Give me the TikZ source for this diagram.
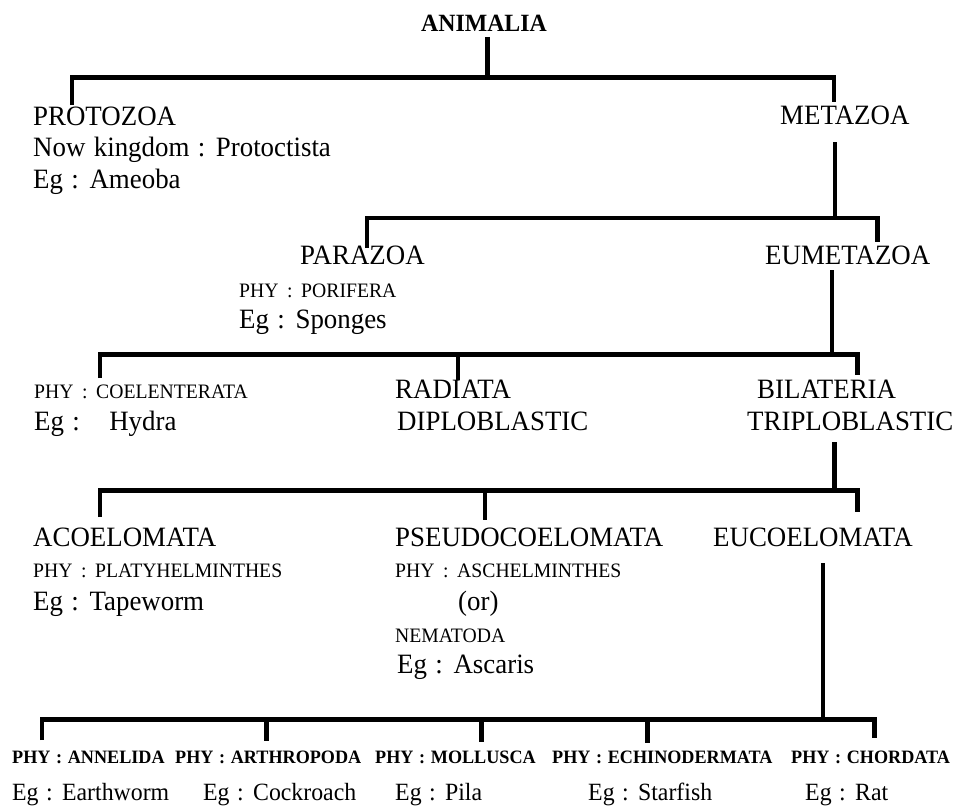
\documentclass[tikz,border=0pt]{standalone}
\usepackage{fontspec}
\setmainfont{Liberation Serif}[FakeStretch=0.96,WordSpace=1.25]
\newcommand{\phsp}{\hspace{0.42em}:\hspace{0.42em}}
\begin{document}
\begin{tikzpicture}[x=1pt,y=-1pt]
\tikzset{
 lbl/.style={anchor=base west, inner sep=0pt, font=\fontsize{28}{30}\selectfont},
 sml/.style={anchor=base west, inner sep=0pt, font=\fontsize{20.5}{22}\selectfont},
 bsml/.style={anchor=base west, inner sep=0pt, font=\bfseries\fontsize{18.9}{21}\selectfont},
 egb/.style={anchor=base west, inner sep=0pt, font=\fontsize{24.8}{27}\selectfont},
 br/.style={line width=4.8pt, line join=miter},
}
\useasboundingbox (0,0) rectangle (955,808);
% texts
\node[anchor=base, inner sep=0pt, font=\bfseries\fontsize{24.8}{27}\selectfont] (animalia) at (484,32) {ANIMALIA};
\node[lbl] (protozoa) at (33,125) {PROTOZOA};
\node[lbl] (protnow) at (33,156) {Now kingdom : Protoctista};
\node[lbl] (proteg) at (33,188) {Eg : Ameoba};
\node[lbl] (metazoa) at (780,124) {METAZOA};
\node[lbl] (parazoa) at (300,264) {PARAZOA};
\node[lbl] (eumetazoa) at (765,264) {EUMETAZOA};
\node[sml] (porifera) at (239,297) {PHY\phsp PORIFERA};
\node[lbl] (sponges) at (239,328) {Eg : Sponges};
\node[sml] (coel) at (34,398) {PHY\phsp COELENTERATA};
\node[lbl] (hydra) at (34,430) {Eg :\hspace{1.05em}Hydra};
\node[lbl] (radiata) at (395,398) {RADIATA};
\node[lbl] (diplo) at (397,430) {DIPLOBLASTIC};
\node[lbl] (bilat) at (757,398) {BILATERIA};
\node[lbl] (triplo) at (747,430) {TRIPLOBLASTIC};
\node[lbl] (acoel) at (33,546) {ACOELOMATA};
\node[lbl] (pseudo) at (395,546) {PSEUDOCOELOMATA};
\node[lbl] (eucoel) at (713,546) {EUCOELOMATA};
\node[sml] (platy) at (33,577) {PHY\phsp PLATYHELMINTHES};
\node[lbl] (tape) at (33,610) {Eg : Tapeworm};
\node[sml] (aschel) at (395,577) {PHY\phsp ASCHELMINTHES};
\node[lbl] (or) at (458,610) {(or)};
\node[sml] (nema) at (395,642) {NEMATODA};
\node[lbl] (ascaris) at (397,673) {Eg : Ascaris};
\node[bsml] (annelida) at (12,763) {PHY : ANNELIDA};
\node[bsml] (arthro) at (175,763) {PHY : ARTHROPODA};
\node[bsml] (mollusca) at (375,763) {PHY : MOLLUSCA};
\node[bsml] (echino) at (552,763) {PHY : ECHINODERMATA};
\node[bsml] (chorda) at (791,763) {PHY : CHORDATA};
\node[egb] (earthworm) at (12,800) {Eg : Earthworm};
\node[egb] (cockroach) at (203,800) {Eg : Cockroach};
\node[egb] (pila) at (395,800) {Eg : Pila};
\node[egb] (starfish) at (588,800) {Eg : Starfish};
\node[egb] (rat) at (805,800) {Eg : Rat};
% level 1
\coordinate (s1) at (487.5,37);
\coordinate (j1) at (487.5,77.5);
\coordinate (l1) at (72,105);
\coordinate (r1) at (834,102);
\draw[br] (l1) |- (j1) -| (r1);
\draw[br] (s1) -- (j1);
% level 2
\coordinate (s2) at (835,142);
\coordinate (j2) at (835,218);
\coordinate (l2) at (367,248);
\coordinate (r2) at (877.5,242);
\draw[br] (l2) |- (j2) -| (r2);
\draw[br] (s2) -- (j2);
% level 3
\coordinate (s3) at (832,270);
\coordinate (j3) at (832,354.5);
\coordinate (l3) at (100,378);
\coordinate (r3) at (857.5,375);
\coordinate (m3a) at (458,354.5);
\coordinate (m3b) at (458,380);
\draw[br] (l3) |- (j3) -| (r3);
\draw[br] (s3) -- (j3);
\draw[br] (m3a) -- (m3b);
% level 4
\coordinate (s4) at (834.5,442);
\coordinate (j4) at (834.5,490.5);
\coordinate (l4) at (100,517);
\coordinate (r4) at (857.5,512);
\coordinate (m4a) at (485,490.5);
\coordinate (m4b) at (485,520);
\draw[br] (l4) |- (j4) -| (r4);
\draw[br] (s4) -- (j4);
\draw[br] (m4a) -- (m4b);
% level 5
\coordinate (s5) at (823,563);
\coordinate (j5) at (823,719.5);
\coordinate (l5) at (42,740);
\coordinate (r5) at (874.5,738);
\coordinate (a5) at (266.5,719.5);
\coordinate (a5b) at (266.5,741);
\coordinate (b5) at (481.5,719.5);
\coordinate (b5b) at (481.5,742);
\coordinate (c5) at (647.5,719.5);
\coordinate (c5b) at (647.5,743);
\draw[br] (l5) |- (j5) -| (r5);
\draw[br] (s5) -- (j5);
\draw[br] (a5) -- (a5b);
\draw[br] (b5) -- (b5b);
\draw[br] (c5) -- (c5b);
\end{tikzpicture}
\end{document}
